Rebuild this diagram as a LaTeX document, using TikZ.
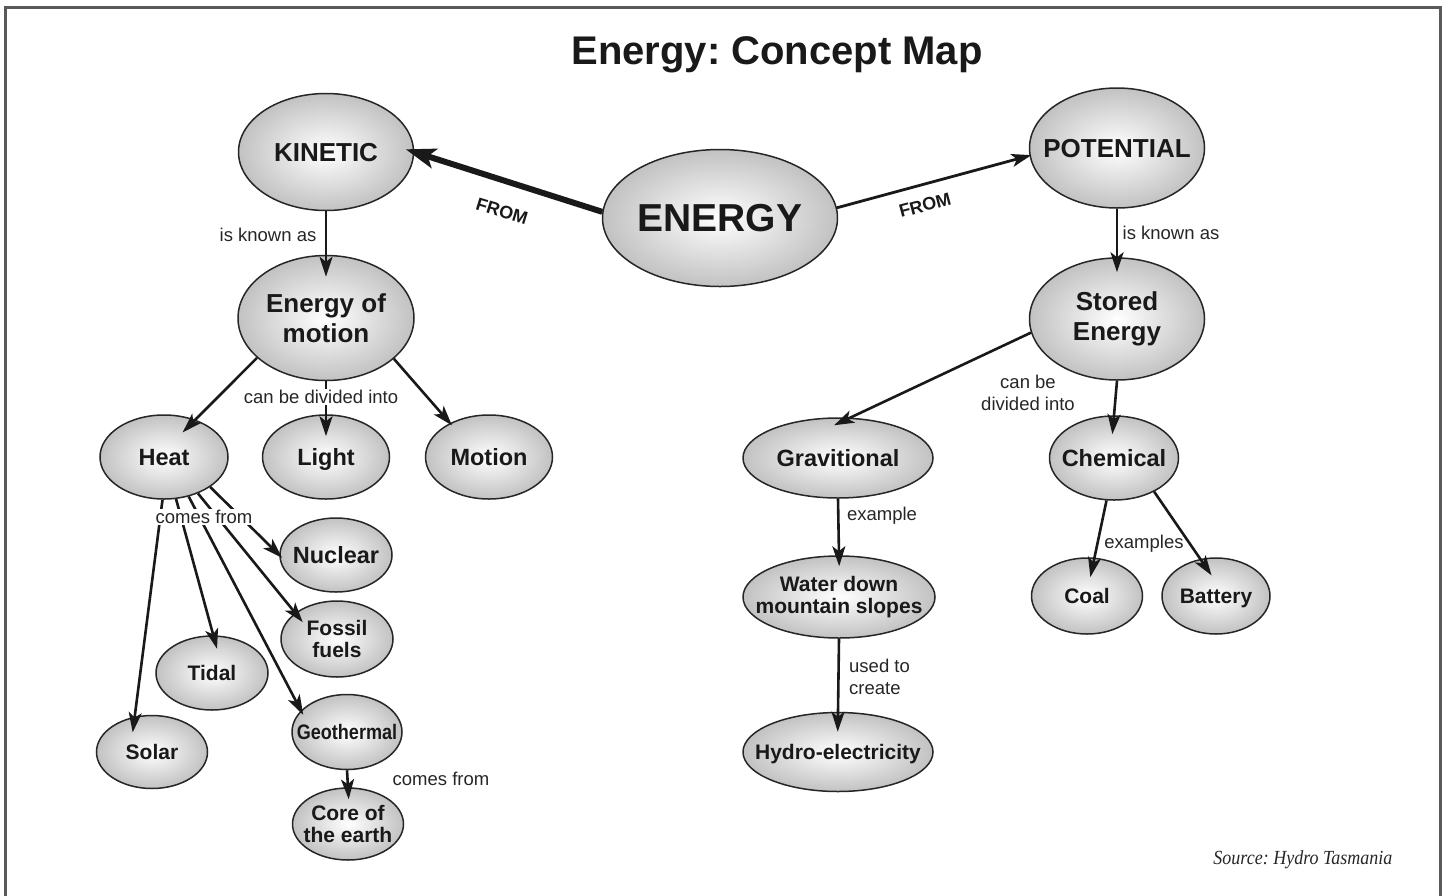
\documentclass[tikz,border=0pt]{standalone}
\usepackage{fontspec}
\setmainfont{Liberation Sans}
\newfontfamily\sourcefont{Liberation Serif}
\usepackage{graphicx}
\usetikzlibrary{shapes.geometric,arrows.meta}
\frenchspacing

\begin{document}
\begin{tikzpicture}[x=1pt, y=-1pt, >={Stealth[length=20pt,width=13pt,inset=5pt]},
  bubble/.style={ellipse, draw=black!85, line width=1.5pt, inner color=white, outer color=black!24, inner sep=-30pt, text=black!90},
  one line/.style={text depth=0pt},
  top node/.style={bubble, align=center, font=\fontsize{26}{30}\selectfont\bfseries},
  mid node/.style={bubble, one line, font=\fontsize{23.5}{26}\selectfont\bfseries},
  leaf node/.style={bubble, align=center, font=\fontsize{21}{22}\selectfont\bfseries},
  link/.style={->, line width=2.6pt, draw=black!90, shorten >=-15pt},
  link label/.style={font=\fontsize{18.5}{22}\selectfont, text=black!85, inner sep=1pt},
  from label/.style={font=\fontsize{18}{20}\selectfont\bfseries, text=black!90, inner sep=1pt}]
\useasboundingbox (0,0) rectangle (1446,895);
\draw[black!65, line width=3pt] (5,897) -- (5,7) -- (1440,7) -- (1440,897);
\node[font=\fontsize{40}{44}\selectfont\bfseries, text=black!90] (title) at (777,55) {Energy: Concept Map};

% concepts
\node[top node, one line, minimum width=235pt, minimum height=137pt, font=\fontsize{39}{44}\selectfont\bfseries] (energy) at (720,218) {ENERGY};
\node[top node, one line, minimum width=175pt, minimum height=117pt] (kinetic) at (326,152) {KINETIC};
\node[top node, one line, minimum width=175pt, minimum height=120pt] (potential) at (1117,148) {POTENTIAL};
\node[top node, minimum width=176pt, minimum height=125pt] (motionenergy) at (326,318) {Energy of\\motion};
\node[top node, minimum width=175pt, minimum height=122pt] (stored) at (1117,319) {Stored\\Energy};
\node[mid node, minimum width=128pt, minimum height=84pt] (heat) at (164,457) {Heat};
\node[mid node, minimum width=127pt, minimum height=84pt] (light) at (326,457) {Light};
\node[mid node, minimum width=127pt, minimum height=84pt] (motion) at (489,457) {Motion};
\node[mid node, minimum width=190pt, minimum height=80pt] (grav) at (838,458) {Gravitional};
\node[mid node, minimum width=129pt, minimum height=84pt] (chemical) at (1114,458) {Chemical};
\node[mid node, minimum width=112pt, minimum height=74pt] (nuclear) at (336,555) {Nuclear};
\node[leaf node, minimum width=112pt, minimum height=76pt] (fossil) at (337,639) {Fossil\\fuels};
\node[leaf node, one line, minimum width=112pt, minimum height=74pt] (tidal) at (212,673) {Tidal};
\node[leaf node, one line, minimum width=111pt, minimum height=73pt] (solar) at (152,752) {Solar};
\node[leaf node, one line, minimum width=110pt, minimum height=75pt] (geo) at (347,732) {\scalebox{0.86}[1]{Geothermal}};
\node[leaf node, minimum width=111pt, minimum height=72pt] (core) at (348,824) {Core of\\the earth};
\node[leaf node, minimum width=192pt, minimum height=82pt] (water) at (839,597) {Water down\\mountain slopes};
\node[leaf node, one line, minimum width=190pt, minimum height=79pt] (hydro) at (838,752) {Hydro-electricity};
\node[leaf node, one line, minimum width=111pt, minimum height=76pt] (coal) at (1087,596) {Coal};
\node[leaf node, one line, minimum width=108pt, minimum height=76pt] (battery) at (1216,596) {Battery};

% links
\draw[link, line width=6pt, >={Stealth[length=30pt,width=20pt,inset=7pt]}, shorten >=-9pt] (energy.177) -- (kinetic.east);
\draw[link, line width=2.8pt, shorten >=-2pt] (energy.5) -- (potential.185);
\draw[link, shorten >=-22pt] (kinetic.south) -- (motionenergy.north);
\draw[link, shorten >=-15pt] (potential.south) -- (stored.north);
\draw[link, shorten >=-18pt] (motionenergy.210) -- (heat.50);
\draw[link, shorten >=-22pt] (motionenergy.south) -- (light.north);
\draw[link, shorten >=-3pt] (motionenergy.329) -- (motion.139);
\draw[link, shorten >=-18pt] (stored.189) -- (grav.73);
\draw[link, shorten >=-19pt] (stored.south) -- (chemical.north);
\draw[link, shorten >=-11pt] (grav.south) -- (water.north);
\draw[link, shorten >=-20pt] (water.south) -- (hydro.north);
\draw[link, shorten >=-20pt] (chemical.260) -- (coal.79);
\draw[link, shorten >=-20pt] (chemical.320) -- (battery.113);
\draw[link, shorten >=-4pt] (heat.327) -- (nuclear.180);
\draw[link, shorten >=-12pt] (heat.313) -- (fossil.148);
\draw[link, shorten >=-5pt] (heat.302) -- (geo.155);
\draw[link, shorten >=-14pt] (heat.286) -- (tidal.88);
\draw[link, shorten >=-16pt] (heat.268) -- (solar.116);
\draw[link, shorten >=-12pt] (geo.south) -- (core.north);

% link texts
\node[from label, rotate=-17] (fromkinetic) at (502,211) {FROM};
\node[from label, rotate=15] (frompotential) at (925,205) {FROM};
\node[link label] (kineticknown) at (268,235) {is known as};
\node[link label] (potentialknown) at (1171,233) {is known as};
\node[link label, fill=white] (motiondivided) at (321,397) {can be divided into};
\node[link label, align=center] (storeddivided) at (1028,393) {can be\\divided into};
\node[link label] (gravexample) at (882,516) {example};
\node[link label, align=left, anchor=west] (watercreate) at (848,677) {used to\\create};
\node[link label] (chemexamples) at (1144,544) {examples};
\node[link label, fill=white] (heatcomes) at (204,517) {comes from};
\node[link label] (geocomes) at (441,779) {comes from};

\node[anchor=east, font=\sourcefont\itshape\fontsize{20}{22}\selectfont, text=black!85] (source) at (1396,860) {\scalebox{0.9}[1]{Source: Hydro Tasmania}};
\end{tikzpicture}
\end{document}
